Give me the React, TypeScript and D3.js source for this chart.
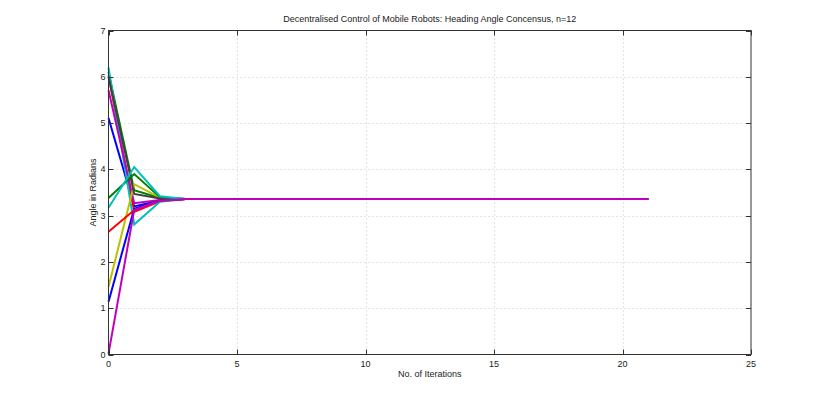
import React, { useEffect, useRef } from 'react';
import * as d3 from 'd3';

// iteration index 0..21
const iterations = d3.range(0, 22);

const xTicks = [0, 5, 10, 15, 20, 25];
const yTicks = [0, 1, 2, 3, 4, 5, 6, 7];

// MATLAB default line colour cycle
const lineColors = ['#0000ff', '#008000', '#ff0000', '#00bfbf', '#bf00bf', '#bfbf00', '#404040'];

// heading angle of each robot per iteration
const robot1 = [5.11, 3.2, 3.33, 3.36, 3.36, 3.36, 3.36, 3.36, 3.36, 3.36, 3.36, 3.36, 3.36, 3.36, 3.36, 3.36, 3.36, 3.36, 3.36, 3.36, 3.36, 3.36];
const robot2 = [6.1, 3.55, 3.38, 3.36, 3.36, 3.36, 3.36, 3.36, 3.36, 3.36, 3.36, 3.36, 3.36, 3.36, 3.36, 3.36, 3.36, 3.36, 3.36, 3.36, 3.36, 3.36];
const robot3 = [6.03, 3.08, 3.31, 3.36, 3.36, 3.36, 3.36, 3.36, 3.36, 3.36, 3.36, 3.36, 3.36, 3.36, 3.36, 3.36, 3.36, 3.36, 3.36, 3.36, 3.36, 3.36];
const robot4 = [6.2, 2.81, 3.3, 3.36, 3.36, 3.36, 3.36, 3.36, 3.36, 3.36, 3.36, 3.36, 3.36, 3.36, 3.36, 3.36, 3.36, 3.36, 3.36, 3.36, 3.36, 3.36];
const robot5 = [5.71, 3.27, 3.34, 3.36, 3.36, 3.36, 3.36, 3.36, 3.36, 3.36, 3.36, 3.36, 3.36, 3.36, 3.36, 3.36, 3.36, 3.36, 3.36, 3.36, 3.36, 3.36];
const robot6 = [1.46, 3.68, 3.39, 3.36, 3.36, 3.36, 3.36, 3.36, 3.36, 3.36, 3.36, 3.36, 3.36, 3.36, 3.36, 3.36, 3.36, 3.36, 3.36, 3.36, 3.36, 3.36];
const robot7 = [6.0, 3.47, 3.37, 3.36, 3.36, 3.36, 3.36, 3.36, 3.36, 3.36, 3.36, 3.36, 3.36, 3.36, 3.36, 3.36, 3.36, 3.36, 3.36, 3.36, 3.36, 3.36];
const robot8 = [1.14, 3.15, 3.33, 3.36, 3.36, 3.36, 3.36, 3.36, 3.36, 3.36, 3.36, 3.36, 3.36, 3.36, 3.36, 3.36, 3.36, 3.36, 3.36, 3.36, 3.36, 3.36];
const robot9 = [3.38, 3.9, 3.4, 3.36, 3.36, 3.36, 3.36, 3.36, 3.36, 3.36, 3.36, 3.36, 3.36, 3.36, 3.36, 3.36, 3.36, 3.36, 3.36, 3.36, 3.36, 3.36];
const robot10 = [2.65, 3.12, 3.32, 3.36, 3.36, 3.36, 3.36, 3.36, 3.36, 3.36, 3.36, 3.36, 3.36, 3.36, 3.36, 3.36, 3.36, 3.36, 3.36, 3.36, 3.36, 3.36];
const robot11 = [3.17, 4.05, 3.42, 3.36, 3.36, 3.36, 3.36, 3.36, 3.36, 3.36, 3.36, 3.36, 3.36, 3.36, 3.36, 3.36, 3.36, 3.36, 3.36, 3.36, 3.36, 3.36];
const robot12 = [0.02, 3.12, 3.32, 3.36, 3.36, 3.36, 3.36, 3.36, 3.36, 3.36, 3.36, 3.36, 3.36, 3.36, 3.36, 3.36, 3.36, 3.36, 3.36, 3.36, 3.36, 3.36];

const robots = [robot1, robot2, robot3, robot4, robot5, robot6, robot7, robot8, robot9, robot10, robot11, robot12];

export default function App() {
  const ref = useRef<SVGSVGElement>(null);

  useEffect(() => {
    const width = 830;
    const height = 399;
    const left = 108.5;
    const right = 751;
    const top = 30.5;
    const bottom = 354.5;
    const font = '"Liberation Sans", Arial, sans-serif';

    const svg = d3.select(ref.current);
    svg.selectAll('*').remove();
    svg.attr('width', width).attr('height', height);

    svg.append('rect').attr('width', width).attr('height', height).attr('fill', '#fff');

    const x = d3.scaleLinear().domain([0, 25]).range([left, right]);
    const y = d3.scaleLinear().domain([0, 7]).range([bottom, top]);

    // grid
    const grid = svg.append('g')
      .attr('stroke', '#c8c8c8')
      .attr('stroke-width', 1)
      .attr('stroke-dasharray', '1,3');
    grid.selectAll('.gx')
      .data(xTicks.slice(1, -1))
      .enter()
      .append('line')
      .attr('x1', (d) => Math.round(x(d)) + 0.5)
      .attr('x2', (d) => Math.round(x(d)) + 0.5)
      .attr('y1', top)
      .attr('y2', bottom);
    grid.selectAll('.gy')
      .data(yTicks.slice(1, -1))
      .enter()
      .append('line')
      .attr('x1', left)
      .attr('x2', right)
      .attr('y1', (d) => Math.round(y(d)) + 0.5)
      .attr('y2', (d) => Math.round(y(d)) + 0.5);

    // lines
    const line = d3.line<number>()
      .x((d, i) => x(iterations[i]))
      .y((d) => y(d));

    svg.selectAll('.robot')
      .data(robots)
      .enter()
      .append('path')
      .attr('d', (d) => line(d))
      .attr('fill', 'none')
      .attr('stroke', (d, i) => lineColors[i % lineColors.length])
      .attr('stroke-width', 2)
      .attr('stroke-linejoin', 'miter');

    // box and ticks
    const frame = svg.append('g').attr('stroke', '#333').attr('stroke-width', 1).attr('fill', 'none');
    frame.append('rect')
      .attr('x', left)
      .attr('y', top)
      .attr('width', right - left)
      .attr('height', bottom - top);

    const tl = 5;
    xTicks.forEach((t) => {
      const px = Math.round(x(t)) + 0.5;
      frame.append('line').attr('x1', px).attr('x2', px).attr('y1', bottom).attr('y2', bottom - tl);
      frame.append('line').attr('x1', px).attr('x2', px).attr('y1', top).attr('y2', top + tl);
    });
    yTicks.forEach((t) => {
      const py = Math.round(y(t)) + 0.5;
      frame.append('line').attr('x1', left).attr('x2', left + tl).attr('y1', py).attr('y2', py);
      frame.append('line').attr('x1', right).attr('x2', right - tl).attr('y1', py).attr('y2', py);
    });

    const txt = svg.append('g').attr('font-family', font).attr('font-size', 9).attr('fill', '#222');

    txt.selectAll('.xl')
      .data(xTicks)
      .enter()
      .append('text')
      .attr('x', (d) => x(d))
      .attr('y', bottom + 12)
      .attr('text-anchor', 'middle')
      .text((d) => d);

    txt.selectAll('.yl')
      .data(yTicks)
      .enter()
      .append('text')
      .attr('x', left - 3)
      .attr('y', (d) => y(d) + 3)
      .attr('text-anchor', 'end')
      .text((d) => d);

    txt.append('text')
      .attr('x', (left + right) / 2)
      .attr('y', 22)
      .attr('text-anchor', 'middle')
      .text('Decentralised Control of Mobile Robots: Heading Angle Concensus, n=12');

    txt.append('text')
      .attr('x', (left + right) / 2)
      .attr('y', 377)
      .attr('text-anchor', 'middle')
      .text('No. of Iterations');

    txt.append('text')
      .attr('transform', 'translate(' + 96 + ',' + (top + bottom) / 2 + ') rotate(-90)')
      .attr('text-anchor', 'middle')
      .text('Angle in Radians');
  }, []);

  return (
    <div style={{ margin: -8 }}>
      <svg ref={ref} style={{ display: 'block' }} />
    </div>
  );
}
